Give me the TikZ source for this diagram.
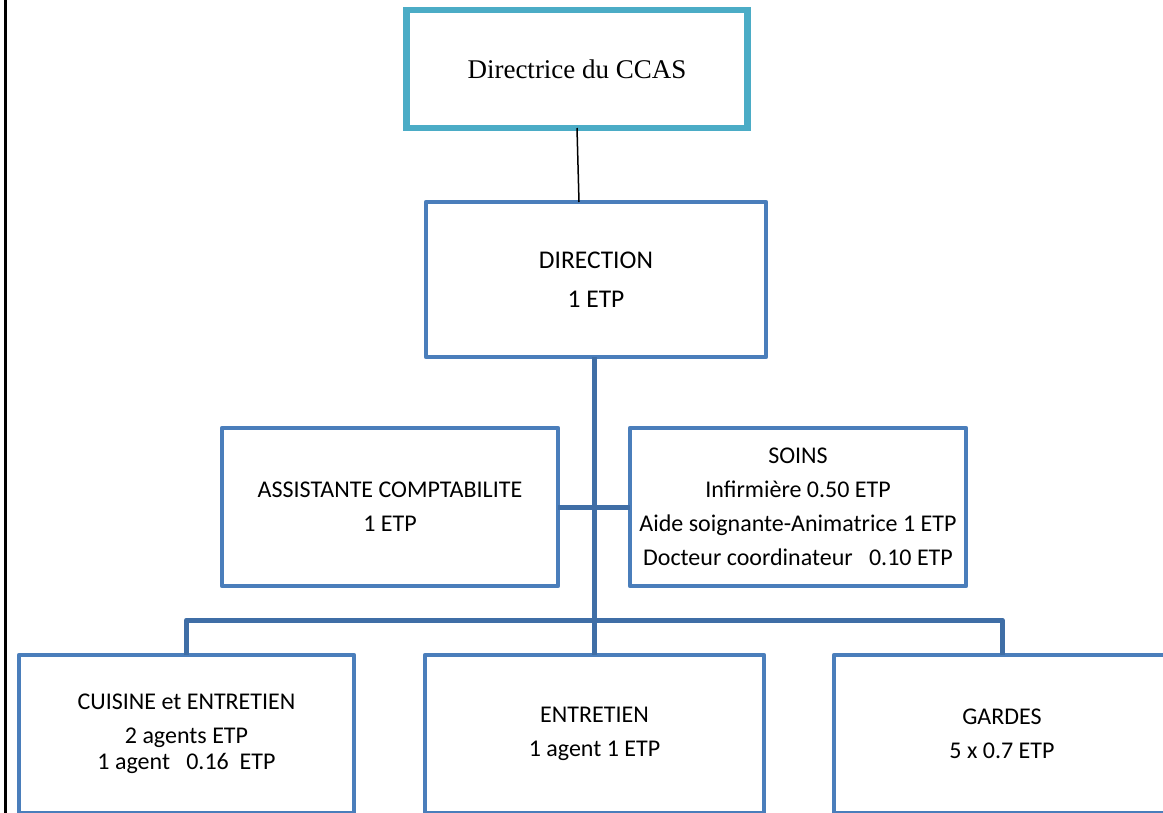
\documentclass[tikz,border=0pt]{standalone}
\usepackage{fontspec}
\setmainfont{Liberation Serif}
\newfontfamily\calfont{Carlito}
\definecolor{boxblue}{HTML}{4A7EBB}
\definecolor{connblue}{HTML}{3F6EA6}
\definecolor{teal}{HTML}{4BACC6}
\begin{document}
\begin{tikzpicture}[x=1pt,y=-1pt,
  orgbox/.style={draw=boxblue, line width=4.5pt, fill=white, rectangle, inner sep=0pt, outer sep=0pt,
    minimum width=336pt, minimum height=158pt, align=center, line join=round,
    font=\calfont\fontsize{24}{34}\selectfont},
  topbox/.style={draw=teal, line width=6.5pt, rectangle, inner sep=0pt, outer sep=0pt,
    minimum width=341pt, minimum height=118pt, align=center,
    font=\fontsize{27}{32}\selectfont},
  conn/.style={draw=connblue, line width=5pt, line join=round},
  thinconn/.style={draw=black, line width=1.5pt}]
\useasboundingbox (0,0) rectangle (1163,812);
\clip (0,0) rectangle (1163,812);
\fill[white] (0,0) rectangle (1163,812);
% left page rule
\draw[black, line width=3pt] (5,-2) -- (5,814);
% boxes
\node[topbox] (ccas) at (577,69) {Directrice du CCAS};
\node[orgbox, minimum width=340pt, minimum height=155pt,
  font=\calfont\fontsize{25.5}{39}\selectfont] (dir) at (596,279.5)
  {DIRECTION\\1 ETP};
\node[orgbox] (asst) at (390,507) {ASSISTANTE COMPTABILITE\\1 ETP};
\node[orgbox] (soins) at (798,507)
  {SOINS\\Infirmière 0.50 ETP\\Aide soignante-Animatrice 1 ETP\\Docteur coordinateur\ \ \ 0.10 ETP};
\node[orgbox, minimum width=335pt, font=\calfont\fontsize{24}{26}\selectfont] (cuis) at (186.5,734)
  {CUISINE et ENTRETIEN\\[8pt]2 agents ETP\\1 agent\ \ \ 0.16\ \ ETP};
\node[orgbox, minimum width=339pt] (entr) at (594.5,734) {ENTRETIEN\\1 agent 1 ETP};
\node[orgbox] (gard) at (1002,734) {GARDES\\5 x 0.7 ETP};
% connectors
\draw[thinconn] (ccas.south) -- ([xshift=-17pt]dir.north);
\draw[conn] ([xshift=-2pt]dir.south) -- ([xshift=-0.5pt]entr.north);
\draw[conn] (asst.east) -- (soins.west);
\draw[conn] (cuis.north) -- ++(0,-35) -| (gard.north);
\end{tikzpicture}
\end{document}
